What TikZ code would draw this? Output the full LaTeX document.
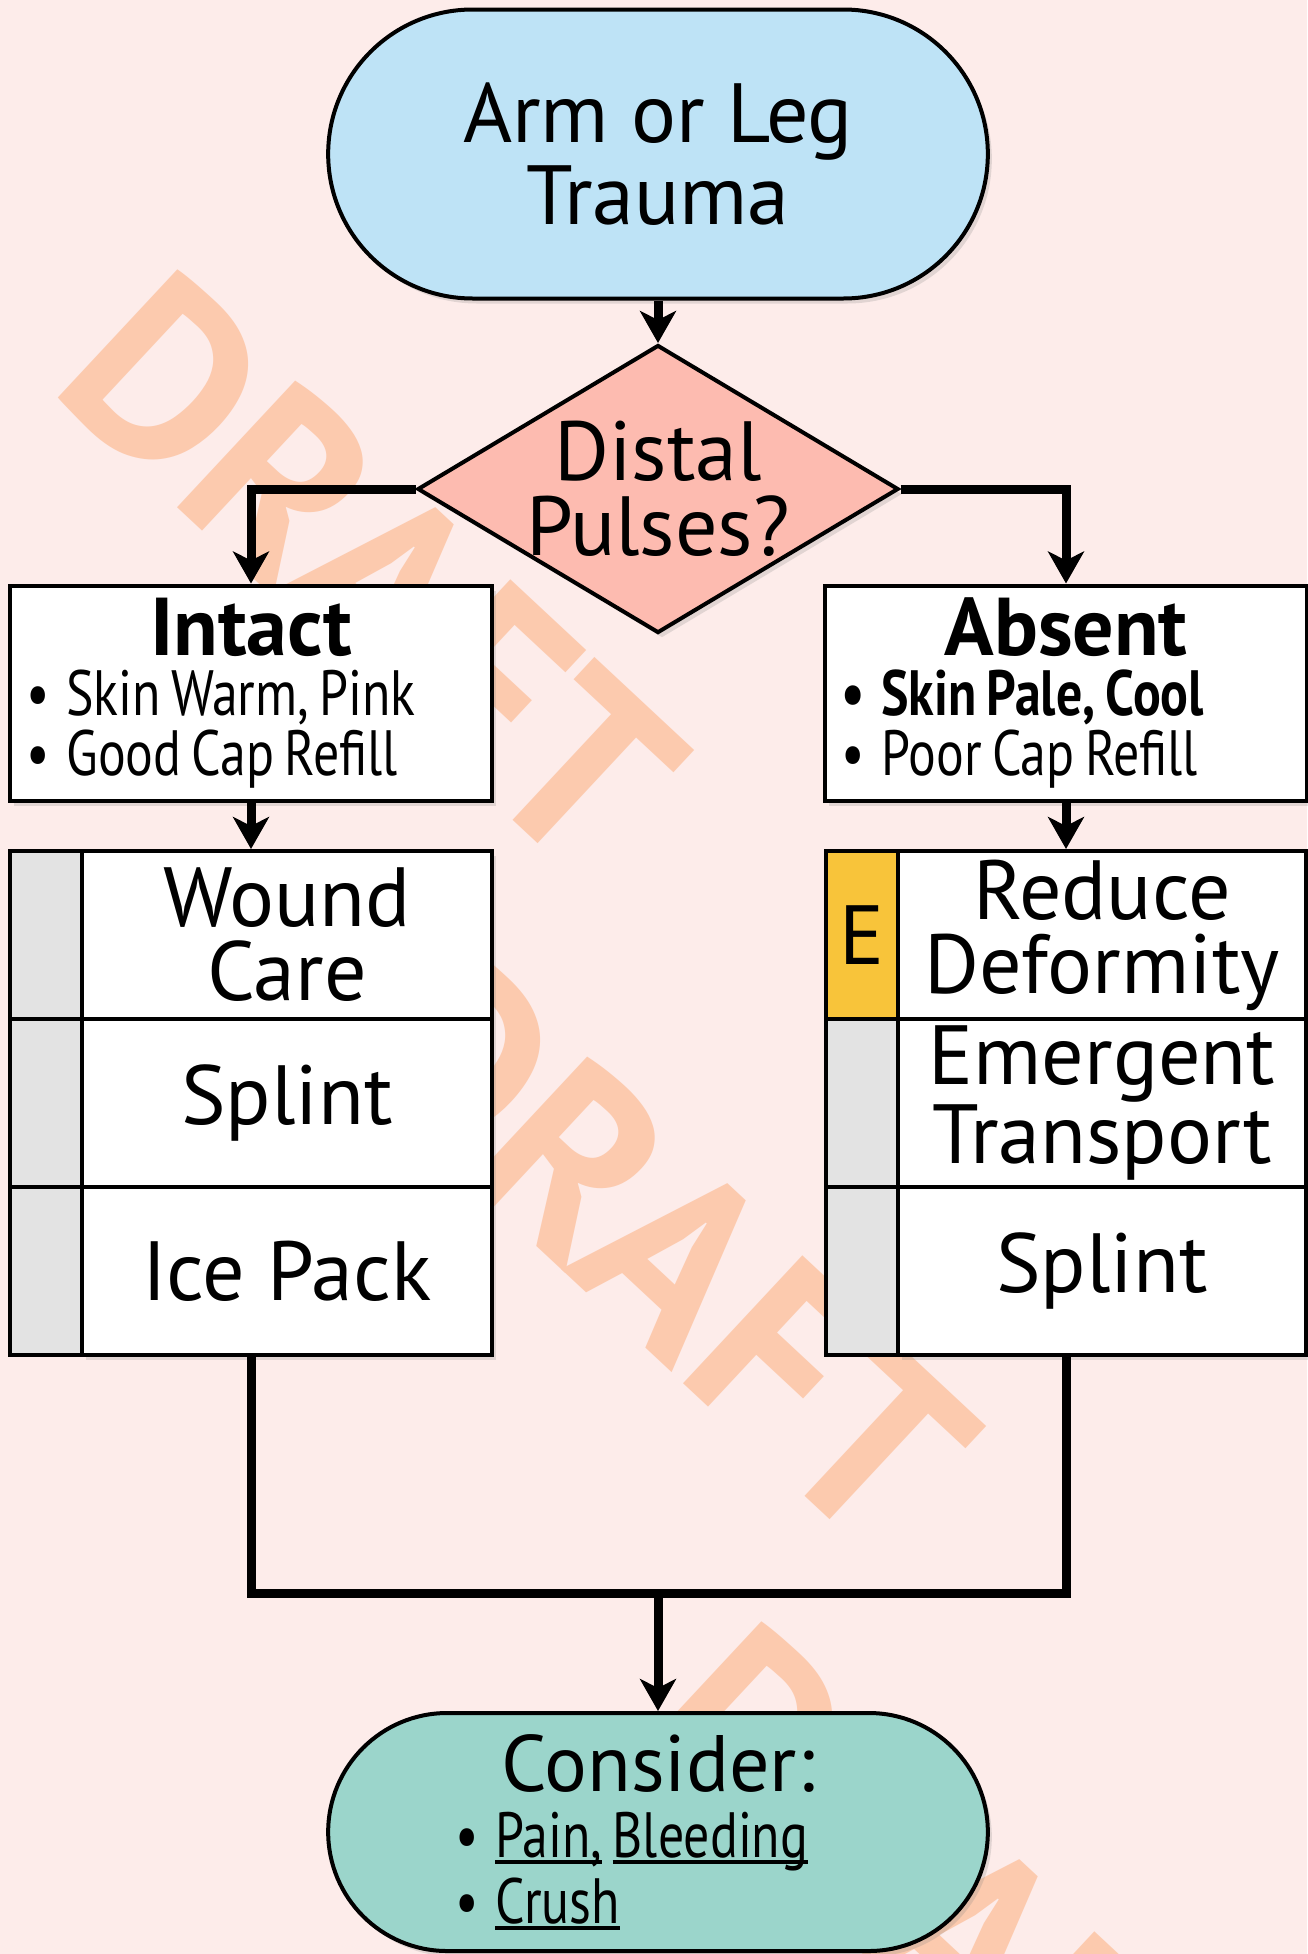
\documentclass[tikz,border=0pt]{standalone}
\usepackage{fontspec}
\setmainfont{PT Sans}
\newfontfamily\narrowfont[FakeStretch=0.81]{PT Sans}
\usetikzlibrary{shapes.geometric,shapes.misc,arrows.meta,shadows}

\definecolor{bgpink}{HTML}{FDECEA}
\definecolor{startblue}{HTML}{BEE3F6}
\definecolor{askpink}{HTML}{FDBBB0}
\definecolor{endteal}{HTML}{9BD5CB}
\definecolor{tabgray}{HTML}{E3E3E3}
\definecolor{tabgold}{HTML}{F8C43A}
\definecolor{markorange}{HTML}{FCCAAE}

\newcommand\hdr[1]{\makebox[\hsize]{\rmfamily\bfseries\fontsize{41}{30}\selectfont #1}}
\newcommand\lnk[1]{\setbox0\hbox{#1}\rlap{\rule[-3pt]{\wd0}{2pt}}\box0\relax}
\newcommand\tightsp{\spaceskip=5.2pt plus 1pt minus 1pt\xspaceskip=5.2pt\relax}
\newcommand\itm{\textbullet\hspace{8.5pt}}

\begin{document}
\begin{tikzpicture}[x=0.5pt,y=-0.5pt,
  boxshadow/.style={drop shadow={shadow xshift=2pt,shadow yshift=-2.5pt,opacity=.22}},
  start/.style={rounded rectangle,draw,line width=2pt,fill=startblue,boxshadow,
    minimum width=336.5pt,minimum height=144.5pt,align=center,
    font=\fontsize{42}{41}\selectfont},
  ask/.style={diamond,draw,line width=2pt,fill=askpink,boxshadow,
    shape aspect=1.67,inner sep=-14pt,
    minimum width=240.5pt,minimum height=144pt,align=center,
    font=\fontsize{42}{37.5}\selectfont},
  info/.style={rectangle,draw,line width=2pt,fill=white,boxshadow,
    inner xsep=8pt,inner ysep=0pt,text width=225pt,minimum height=107.5pt,
    align=left,font=\narrowfont\fontsize{32}{30}\selectfont},
  act/.style={rectangle,draw,line width=2pt,fill=white,boxshadow,
    minimum width=205pt,minimum height=84pt,align=center,
    font=\fontsize{42}{37}\selectfont},
  tabcell/.style={rectangle,draw,line width=2pt,fill=tabgray,
    minimum width=36pt,minimum height=84pt,font=\fontsize{42}{37}\selectfont},
  stop/.style={start,fill=endteal,minimum height=119pt,text width=203pt,
    align=left,font=\narrowfont\fontsize{32}{33}\selectfont},
  watermark/.style={text=markorange,rotate=-43,font=\bfseries\fontsize{125}{125}\selectfont},
  link/.style={line width=4.5pt},
  flow/.style={link,-{Stealth[length=16pt,width=18pt,inset=4.5pt]}}]

\fill[bgpink] (0,0) rectangle (1307,1954);
\useasboundingbox (0,0) rectangle (1307,1954);

% watermark
\node[watermark] (wm1) at (372,570) {DRAFT};
\node[watermark] (wm2) at (664,1246) {DRAFT};
\node[watermark] (wm3) at (956,1922) {DRAFT};

\node[start] (z) at (658,154) {Arm or Leg\\Trauma};
\node[ask] (d) at (658,489) {Distal\\Pulses?};

\node[info] (lz) at (251,693) {\tightsp\hdr{Intact}\\
  \itm Skin Warm, Pink\\
  \itm Good Cap Refill};
\node[info] (rz) at (1066,693) {\tightsp\hdr{Absent}\\
  {\bfseries\itm Skin Pale, Cool}\\
  \itm Poor Cap Refill};

% left stack
\node[tabcell] (lwt) at (46,935) {};
\node[act] (lw) at (287,935) {Wound\\Care};
\node[tabcell] (lst) at (46,1103) {};
\node[act] (ls) at (287,1103) {Splint};
\node[tabcell] (lit) at (46,1271) {};
\node[act] (li) at (287,1271) {Ice Pack};

% right stack
\node[tabcell,fill=tabgold] (rdt) at (862,935) {E};
\node[act,minimum width=204pt] (rd) at (1102,935) {Reduce\\Deformity};
\node[tabcell] (ret) at (862,1103) {};
\node[act,minimum width=204pt] (re) at (1102,1103) {Emergent\\Transport};
\node[tabcell] (rst) at (862,1271) {};
\node[act,minimum width=204pt] (rs) at (1102,1271) {Splint};

\node[stop] (c) at (658,1832) {\tightsp\makebox[\hsize]{\rmfamily\fontsize{40}{33}\selectfont Consider:}\\
  \itm\lnk{Pain,} \lnk{Bleeding}\\
  \itm\lnk{Crush}};

\draw[flow] (z.south) -- (d.north);
\draw[flow] (d.west) -| (lz.north);
\draw[flow] (d.east) -| (rz.north);
\draw[flow] (lz.south) -- (lz.south |- lw.north);
\draw[flow] (rz.south) -- (rz.south |- rd.north);
\coordinate (m) at (658,1593);
\draw[link] (lz.south |- li.south) |- (m) -| (rz.south |- rs.south);
\draw[flow] (m) -- (c.north);
\end{tikzpicture}
\end{document}
